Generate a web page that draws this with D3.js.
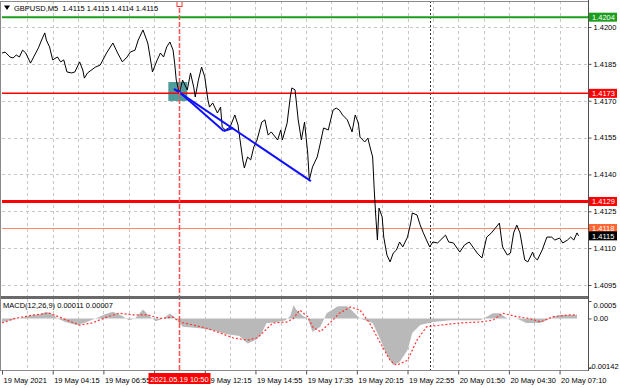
<!DOCTYPE html>
<html>
<head>
<meta charset="utf-8">
<script src="https://cdn.jsdelivr.net/npm/d3@7"></script>
<style>
body { margin: 0; background: #fff; }
svg { display: block; font-family: "Liberation Sans", Arial, sans-serif; }
</style>
</head>
<body>
<svg width="620" height="388"></svg>
<script>
// ---- data (x in M5 bars, bar 0 = 19 May 01:35) ----
var symbolTitle = "GBPUSD,M5  1.4115 1.4115 1.4114 1.4115";
var macdTitle = "MACD(12,26,9) 0.00011 0.00007";

var timeTicks = [0, 32, 64, 96, 128, 160, 192, 224, 256, 288, 320, 352];
var timeLabels = ["19 May 2021", "19 May 04:15", "19 May 06:55", "19 May 09:35", "19 May 12:15",
    "19 May 14:55", "19 May 17:35", "19 May 20:15", "19 May 22:55", "20 May 01:50",
    "20 May 04:30", "20 May 07:10"];

var priceTicks = [1.4200, 1.4185, 1.4170, 1.4155, 1.4140, 1.4125, 1.4110, 1.4095];
var macdTicks = [0.0005, 0, -0.00142];
var macdTickLabels = ["0.0005", "0.00", "-0.00142"];

var closeTrace = [
    [0, 1.41894], [2, 1.41898], [5, 1.41878], [7, 1.41874], [9, 1.41886], [11, 1.41878], [13, 1.41906],
    [15, 1.41894], [18, 1.41853], [20, 1.41878], [23, 1.41915], [25, 1.41947], [27, 1.41976], [28, 1.41947],
    [30, 1.41919], [32, 1.41866], [35, 1.41878], [37, 1.41858], [39, 1.41866], [41, 1.41817], [44, 1.41813],
    [46, 1.41817], [49, 1.41858], [51, 1.41825], [52, 1.41792], [54, 1.41813], [59, 1.41837], [62, 1.41845],
    [66, 1.41894], [70, 1.41935], [73, 1.41894], [76, 1.41858], [79, 1.41878], [81, 1.41898], [84, 1.41906],
    [86, 1.41947], [89, 1.41988], [92, 1.41935], [93, 1.41898], [95, 1.41817], [98, 1.41866], [100, 1.41894],
    [102, 1.41878], [104, 1.41919], [106, 1.41939], [108, 1.41906], [109, 1.41853], [110, 1.41784],
    [112, 1.41731], [114, 1.41784], [117, 1.41744], [119, 1.41813], [121, 1.41756], [122, 1.41715],
    [124, 1.41784], [126, 1.41837], [128, 1.41797], [130, 1.41703], [131, 1.41674], [133, 1.41691],
    [136, 1.41650], [138, 1.41674], [139, 1.41593], [141, 1.41581], [144, 1.41593], [147, 1.41642],
    [149, 1.41601], [152, 1.41459], [153, 1.41426], [155, 1.41471], [157, 1.41459], [159, 1.41512],
    [161, 1.41540], [164, 1.41613], [166, 1.41622], [168, 1.41560], [170, 1.41573], [174, 1.41540],
    [176, 1.41581], [177, 1.41540], [180, 1.41609], [182, 1.41715], [183, 1.41752], [185, 1.41744],
    [187, 1.41622], [189, 1.41540], [191, 1.41613], [193, 1.41487], [194, 1.41377], [196, 1.41430],
    [199, 1.41471], [201, 1.41528], [203, 1.41589], [206, 1.41581], [207, 1.41609], [209, 1.41662],
    [211, 1.41670], [213, 1.41662], [215, 1.41642], [218, 1.41622], [221, 1.41573], [223, 1.41642],
    [225, 1.41609], [226, 1.41552], [229, 1.41532], [231, 1.41548], [232, 1.41520], [234, 1.41471],
    [235, 1.41337], [236, 1.41227], [237, 1.41133], [238, 1.41263], [240, 1.41227], [241, 1.41145],
    [243, 1.41072], [245, 1.41044], [247, 1.41080], [249, 1.41092], [251, 1.41125], [253, 1.41105],
    [256, 1.41145], [258, 1.41202], [259, 1.41243], [262, 1.41235], [264, 1.41194], [266, 1.41162],
    [268, 1.41133], [270, 1.41105], [272, 1.41125], [275, 1.41121], [280, 1.41153], [282, 1.41125],
    [285, 1.41121], [289, 1.41084], [292, 1.41113], [295, 1.41125], [300, 1.41080], [303, 1.41060],
    [306, 1.41145], [309, 1.41162], [312, 1.41186], [314, 1.41202], [316, 1.41105], [319, 1.41072],
    [321, 1.41080], [323, 1.41162], [325, 1.41194], [327, 1.41162], [330, 1.41052], [332, 1.41044],
    [335, 1.41084], [336, 1.41064], [338, 1.41052], [341, 1.41092], [344, 1.41145], [347, 1.41145],
    [349, 1.41133], [352, 1.41141], [354, 1.41121], [357, 1.41133], [359, 1.41145], [361, 1.41133],
    [363, 1.41162], [364, 1.41150]
];

var macdHist = [
    [0, -0.0001], [11, 0], [16, 0.00007], [24, 0.00012], [28, 0.00019], [32, 0.00012], [35, 0],
    [40, -0.0001], [47, -0.00019], [52, -0.00013], [59, 0], [65, 0.00012], [70, 0.00019], [76, 0.00007],
    [80, -0.00005], [84, 0], [89, 0.00026], [93, 0.00007], [97, -0.00008], [102, 0], [106, 0.00014],
    [110, 0], [114, -0.00024], [125, -0.00028], [133, -0.00034], [142, -0.00045], [150, -0.0005],
    [155, -0.00072], [160, -0.00062], [163, -0.0005], [167, -0.00014], [174, -0.0001], [179, -0.00005],
    [182, 0.00007], [184, 0.00038], [186, 0.00024], [190, 0.00007], [193, 0], [196, -0.00038],
    [201, -0.00024], [205, 0.00015], [212, 0.00035], [218, 0.00035], [222, 0.00018], [226, 0],
    [234, -0.00013], [239, -0.00062], [243, -0.00105], [247, -0.00134], [251, -0.00125], [256, -0.00091],
    [259, -0.00042], [264, -0.00019], [272, -0.0001], [283, -0.00005], [302, -0.00005], [310, 0.00015],
    [314, 0.00015], [319, 0], [325, 0], [331, -0.00013], [340, -0.00013], [348, 0.00004], [352, 0.0001],
    [363, 0.0001]
];

var macdSignal = [
    [0, -0.00013], [8, 0], [20, 0.0001], [30, 0.00015], [41, -0.00005], [49, -0.00019], [57, -0.00013],
    [66, 0.00004], [74, 0.00015], [83, 0.0001], [92, 0.0001], [100, 0], [108, 0.00004], [112, -0.0001],
    [121, -0.00019], [129, -0.00028], [138, -0.00042], [146, -0.00056], [155, -0.00062], [161, -0.00056],
    [165, -0.00039], [171, -0.00013], [180, -0.0001], [184, 0], [188, 0.00024], [193, 0.00005],
    [196, -0.00024], [201, -0.00038], [207, -0.00013], [213, 0.00015], [220, 0.00033], [226, 0.00024],
    [232, -0.00013], [239, -0.00071], [245, -0.0012], [249, -0.00134], [256, -0.0012], [262, -0.00062],
    [268, -0.00024], [277, -0.00019], [289, -0.00013], [302, -0.0001], [310, -0.00005], [316, 0.00015],
    [325, 0.00005], [333, 0], [340, -0.0001], [348, 0.00005], [357, 0.0001], [363, 0.0001]
];

var levelPrices = [1.4204, 1.4173, 1.4129, 1.4118];
var bidPrice = 1.4115;
var zoneBars = [105, 117];
var zonePrices = [1.41699, 1.41776];
var trendLines = [
    [[108.6, 1.41748], [195, 1.41373]],
    [[110.5, 1.41744], [140, 1.41577]],
    [[140, 1.41577], [146, 1.41589]]
];
var signalBar = 112;
var signalLabel = "2021.05.19 10:50";
var daySepBar = 270;
var gridStep = 16;
var lastBar = 364;

// ---- layout ----
var svg = d3.select("svg");
var plotRight = 588, mainTop = 1, mainBottom = 296, macdTop = 299, macdBottom = 370;

var x = d3.scaleLinear().domain([0, lastBar]).range([2, 2 + lastBar * 1.584]);
var y = d3.scaleLinear().domain([1.4095, 1.4200]).range([285, 27]);
var ym = d3.scaleLinear().domain([-0.00142, 0.0005]).range([368, 301]);

var levelStyle = [
    { color: "#1e9e1e", width: 2, tag: "#1e9e1e" },
    { color: "#ff0000", width: 1.5, tag: "#ff0000" },
    { color: "#ff0000", width: 3, tag: "#ff0000" },
    { color: "#ff8a6a", width: 1, tag: "#ff6633" }
];

// grid
var gridBars = d3.range(gridStep, lastBar, gridStep).filter(function (b) { return b !== signalBar; });
var grid = svg.append("g").attr("stroke", "#c6c6c6").attr("stroke-dasharray", "3,3");
grid.selectAll(".vg")
    .data(gridBars)
    .enter()
    .append("path")
    .attr("d", function (b) {
        var xx = Math.round(x(b)) + 0.5;
        return "M" + xx + "," + mainTop + "V" + mainBottom + "M" + xx + "," + macdTop + "V" + macdBottom;
    });
grid.selectAll(".hg")
    .data(priceTicks)
    .enter()
    .append("line")
    .attr("x1", 2).attr("x2", plotRight)
    .attr("y1", function (d) { return Math.round(y(d)) + 0.5; })
    .attr("y2", function (d) { return Math.round(y(d)) + 0.5; });

// day separator
svg.append("path")
    .attr("d", "M" + (Math.round(x(daySepBar)) + 0.5) + "," + mainTop + "V" + macdBottom)
    .attr("stroke", "#333").attr("stroke-dasharray", "2,2");

// zone box
svg.append("rect")
    .attr("x", x(zoneBars[0]))
    .attr("y", y(zonePrices[1]))
    .attr("width", x(zoneBars[1]) - x(zoneBars[0]))
    .attr("height", y(zonePrices[0]) - y(zonePrices[1]))
    .attr("fill", "#4f9c9c");

// level lines
svg.selectAll(".level")
    .data(levelPrices)
    .enter()
    .append("line")
    .attr("x1", 2).attr("x2", plotRight)
    .attr("y1", function (d) { return y(d); })
    .attr("y2", function (d) { return y(d); })
    .attr("stroke", function (d, i) { return levelStyle[i].color; })
    .attr("stroke-width", function (d, i) { return levelStyle[i].width; });

// price line
var line = d3.line()
    .x(function (d) { return x(d[0]); })
    .y(function (d) { return y(d[1]); });
svg.append("path")
    .datum(closeTrace)
    .attr("d", line)
    .attr("fill", "none")
    .attr("stroke", "#000")
    .attr("stroke-width", 1);

// trend lines
svg.selectAll(".trend")
    .data(trendLines)
    .enter()
    .append("path")
    .attr("d", line)
    .attr("fill", "none")
    .attr("stroke", "#1010ff")
    .attr("stroke-width", 2);

// MACD
var area = d3.area()
    .x(function (d) { return x(d[0]); })
    .y0(ym(0))
    .y1(function (d) { return ym(d[1]); });
svg.append("path")
    .datum(macdHist)
    .attr("d", area)
    .attr("fill", "#b9b9b9");
svg.append("path")
    .datum(macdSignal)
    .attr("d", d3.line().x(function (d) { return x(d[0]); }).y(function (d) { return ym(d[1]); }))
    .attr("fill", "none")
    .attr("stroke", "#ff3333")
    .attr("stroke-width", 1.2)
    .attr("stroke-dasharray", "2,2");

// signal vertical
var sx = Math.round(x(signalBar)) + 0.5;
svg.append("path")
    .attr("d", "M" + sx + "," + mainTop + "V" + macdBottom)
    .attr("stroke", "#ff5050").attr("stroke-width", 1.5).attr("stroke-dasharray", "5,2");
svg.append("rect")
    .attr("x", sx - 2.5).attr("y", 1.5).attr("width", 5).attr("height", 5)
    .attr("fill", "#fff").attr("stroke", "#ff3030");

// frame
svg.append("rect").attr("x", 0).attr("y", mainBottom).attr("width", plotRight).attr("height", 3).attr("fill", "#6a6a6a");
svg.append("path")
    .attr("d", "M0.5," + mainTop + "V" + macdBottom + "M0," + (mainTop + 0.5) + "H" + plotRight +
        "M0," + (macdBottom + 0.5) + "H" + plotRight)
    .attr("stroke", "#8a8a8a").attr("fill", "none");
svg.append("path")
    .attr("d", "M" + (plotRight + 0.5) + ",0V" + (macdBottom + 1))
    .attr("stroke", "#505050");

// right axes
var yAxis = svg.append("g")
    .attr("transform", "translate(" + (plotRight + 0.5) + ",0)")
    .call(d3.axisRight(y).tickValues(priceTicks).tickSize(3).tickPadding(2).tickFormat(d3.format(".4f")));
var mAxis = svg.append("g")
    .attr("transform", "translate(" + (plotRight + 0.5) + ",0)")
    .call(d3.axisRight(ym).tickValues(macdTicks).tickSize(3).tickPadding(2)
        .tickFormat(function (d, i) { return macdTickLabels[i]; }));
[yAxis, mAxis].forEach(function (a) {
    a.select(".domain").remove();
    a.selectAll("line").attr("stroke", "#505050");
    a.selectAll("text").attr("font-size", "7.5px").attr("fill", "#000").attr("font-family", "Liberation Sans, Arial");
});
mAxis.selectAll(".tick text")
    .attr("dy", function (d, i) { return i === 0 ? "0.9em" : (i === 2 ? "0.1em" : "0.32em"); })
    .attr("x", function (d, i) { return i === 2 ? 0.5 : 5; });

// bottom axis (the label fully under the time tag is hidden there)
var xAxis = svg.append("g")
    .attr("transform", "translate(0," + (macdBottom + 0.5) + ")")
    .call(d3.axisBottom(x).tickValues(timeTicks).tickSize(4).tickPadding(3)
        .tickFormat(function (d, i) { return timeLabels[i]; }));
xAxis.select(".domain").remove();
xAxis.selectAll("line").attr("stroke", "#505050");
xAxis.selectAll("text")
    .attr("text-anchor", "start")
    .attr("dx", 1)
    .attr("font-size", "7.5px").attr("fill", "#000").attr("font-family", "Liberation Sans, Arial");
xAxis.selectAll(".tick")
    .filter(function (d) { return x(d) > sx - 31 && x(d) + 46 < sx + 31; })
    .select("text").remove();

// signal time tag
svg.append("rect").attr("x", sx - 31).attr("y", 373).attr("width", 62).attr("height", 11).attr("fill", "#ff0000");
svg.append("text").attr("x", sx).attr("y", 381.5).attr("text-anchor", "middle")
    .attr("font-size", "7.5px").attr("fill", "#fff").text(signalLabel);

// price tags
var tags = levelPrices.map(function (p, i) { return { p: p, bg: levelStyle[i].tag }; });
tags.push({ p: bidPrice, bg: "#000" });
var tag = svg.selectAll(".tag")
    .data(tags)
    .enter()
    .append("g")
    .attr("transform", function (d) { return "translate(" + (plotRight + 1) + "," + y(d.p) + ")"; });
tag.append("rect").attr("x", 0).attr("y", -4.5).attr("width", 28).attr("height", 9).attr("fill", function (d) { return d.bg; });
tag.append("text").attr("x", 3).attr("y", 3).attr("font-size", "7.5px").attr("fill", "#fff")
    .text(function (d) { return d3.format(".4f")(d.p); });

// titles
svg.append("path").attr("d", "M4,5.5H10L7,10Z").attr("fill", "#000");
svg.append("text").attr("x", 14).attr("y", 11).attr("font-size", "7.5px").attr("fill", "#000")
    .attr("xml:space", "preserve").text(symbolTitle);
svg.append("text").attr("x", 3).attr("y", 308).attr("font-size", "7.5px").attr("fill", "#000").text(macdTitle);
</script>
</body>
</html>
